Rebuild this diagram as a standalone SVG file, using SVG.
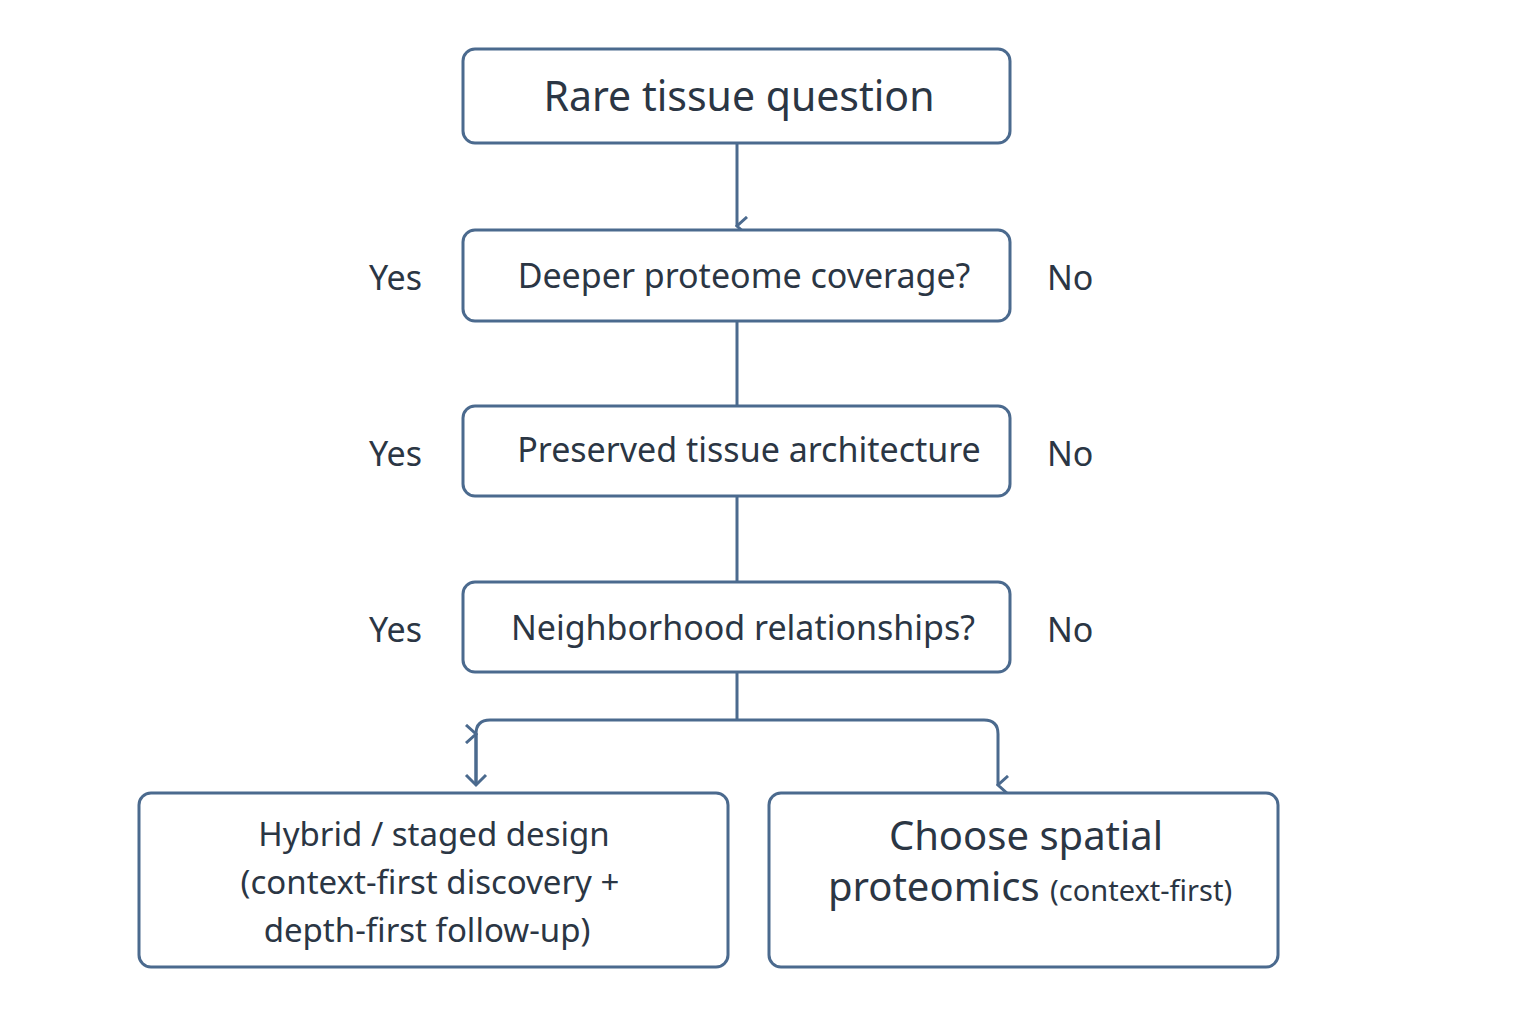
<svg xmlns="http://www.w3.org/2000/svg" width="1536" height="1024" viewBox="0 0 1536 1024">
<style>
.box{fill:#fff;stroke:#4b6a8e;stroke-width:3}
.t{font-family:"Noto Sans","Liberation Sans",sans-serif;fill:#2b3644}
.c{fill:none;stroke:#4b6a8e;stroke-width:3}
</style>
<defs><marker id="a" viewBox="0 0 20 20" refX="10" refY="18" markerWidth="20" markerHeight="20" markerUnits="userSpaceOnUse" orient="auto-start-reverse"><path d="M1 8 L10 18 L19 8" fill="none" stroke="#4b6a8e" stroke-width="3"/></marker></defs>
<rect width="1536" height="1024" fill="#fff"/>
<g id="connectors">
<path class="c" d="M737 143V226" marker-end="url(#a)"/>
<path class="c" d="M737 321V406M737 496V582M737 672V720"/>
<path class="c" d="M476 785V734Q476 720 490 720H984Q998 720 998 734V785" marker-end="url(#a)"/>
<path class="c" d="M476 785V734" marker-end="url(#a)" stroke="none"/>
<path d="M466 775 L476 785 L486 775" class="c"/>
</g>
<g id="n1"><rect class="box" x="463" y="49" width="547" height="94" rx="12"/><text class="t" x="739" y="111" font-size="41" text-anchor="middle">Rare tissue question</text></g>
<g id="n2"><rect class="box" x="463" y="230" width="547" height="91" rx="12"/><text class="t" x="744" y="288" font-size="34" text-anchor="middle">Deeper proteome coverage?</text><text class="t" x="369" y="290" font-size="34">Yes</text><text class="t" x="1047" y="290" font-size="34">No</text></g>
<g id="n3"><rect class="box" x="463" y="406" width="547" height="90" rx="12"/><text class="t" x="749" y="462" font-size="34" text-anchor="middle">Preserved tissue architecture</text><text class="t" x="369" y="466" font-size="34">Yes</text><text class="t" x="1047" y="466" font-size="34">No</text></g>
<g id="n4"><rect class="box" x="463" y="582" width="547" height="90" rx="12"/><text class="t" x="743" y="640" font-size="34" text-anchor="middle">Neighborhood relationships?</text><text class="t" x="369" y="642" font-size="34">Yes</text><text class="t" x="1047" y="642" font-size="34">No</text></g>
<g id="n5"><rect class="box" x="139" y="793" width="589" height="174" rx="12"/><text class="t" font-size="33" text-anchor="middle"><tspan x="434" y="846">Hybrid / staged design</tspan><tspan x="430" y="894">(context-first discovery +</tspan><tspan x="427" y="942">depth-first follow-up)</tspan></text></g>
<g id="n6"><rect class="box" x="769" y="793" width="509" height="174" rx="12"/><text class="t" x="1026" y="850" font-size="40" text-anchor="middle">Choose spatial</text><text class="t" x="1030" y="901" text-anchor="middle"><tspan font-size="40">proteomics </tspan><tspan font-size="29">(context-first)</tspan></text></g>
</svg>
